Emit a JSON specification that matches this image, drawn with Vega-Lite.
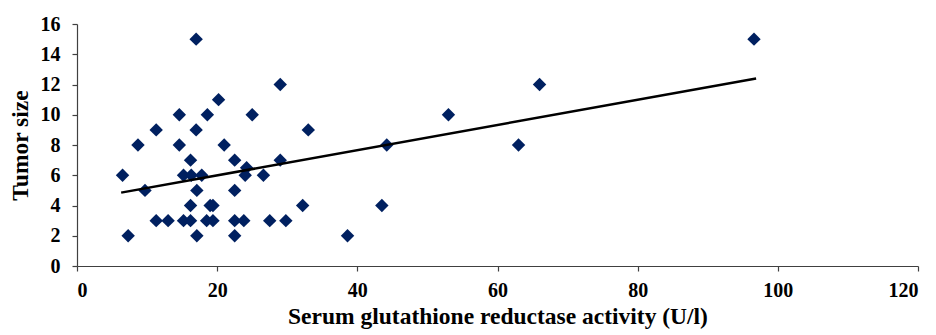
{
  "$schema": "https://vega.github.io/schema/vega-lite/v6.json",
  "width": 841,
  "height": 242,
  "autosize": {"type": "none"},
  "padding": {"left": 77, "top": 24, "right": 18, "bottom": 69},
  "background": "white",
  "config": {
    "view": {"stroke": null},
    "font": "Liberation Serif",
    "axis": {
      "grid": false,
      "domainColor": "#404040",
      "domainWidth": 1.2,
      "tickColor": "#404040",
      "tickWidth": 1.2,
      "tickSize": 5,
      "labelFont": "Liberation Serif",
      "labelFontWeight": "bold",
      "labelFontSize": 20,
      "labelColor": "#000000",
      "titleFont": "Liberation Serif",
      "titleFontWeight": "bold",
      "titleFontSize": 23.5,
      "titleColor": "#000000"
    }
  },
  "datasets": {
    "points": [
      {"activity": 6.5, "size": 6},
      {"activity": 7.3, "size": 2},
      {"activity": 8.7, "size": 8},
      {"activity": 9.7, "size": 5},
      {"activity": 11.3, "size": 9},
      {"activity": 11.3, "size": 3},
      {"activity": 13.0, "size": 3},
      {"activity": 14.6, "size": 10},
      {"activity": 14.6, "size": 8},
      {"activity": 15.2, "size": 6},
      {"activity": 16.3, "size": 6},
      {"activity": 15.2, "size": 3},
      {"activity": 16.2, "size": 3},
      {"activity": 16.2, "size": 7},
      {"activity": 16.2, "size": 4},
      {"activity": 17.0, "size": 15},
      {"activity": 17.0, "size": 9},
      {"activity": 17.1, "size": 5},
      {"activity": 17.1, "size": 2},
      {"activity": 17.8, "size": 6},
      {"activity": 18.6, "size": 10},
      {"activity": 18.5, "size": 3},
      {"activity": 19.4, "size": 3},
      {"activity": 19.0, "size": 4},
      {"activity": 19.4, "size": 4},
      {"activity": 20.2, "size": 11},
      {"activity": 21.0, "size": 8},
      {"activity": 22.5, "size": 7},
      {"activity": 22.5, "size": 5},
      {"activity": 22.5, "size": 3},
      {"activity": 22.5, "size": 2},
      {"activity": 23.8, "size": 3},
      {"activity": 24.2, "size": 6.5},
      {"activity": 24.0, "size": 6},
      {"activity": 25.0, "size": 10},
      {"activity": 26.6, "size": 6},
      {"activity": 27.5, "size": 3},
      {"activity": 29.0, "size": 12},
      {"activity": 29.0, "size": 7},
      {"activity": 29.8, "size": 3},
      {"activity": 32.2, "size": 4},
      {"activity": 33.0, "size": 9},
      {"activity": 38.6, "size": 2},
      {"activity": 43.5, "size": 4},
      {"activity": 44.2, "size": 8},
      {"activity": 53.0, "size": 10},
      {"activity": 63.0, "size": 8},
      {"activity": 66.0, "size": 12},
      {"activity": 96.6, "size": 15}
    ],
    "trend": [
      {"activity": 6.3, "size": 4.85},
      {"activity": 96.9, "size": 12.4}
    ]
  },
  "layer": [
    {
      "data": {"name": "points"},
      "mark": {"type": "point", "shape": "diamond", "filled": true, "size": 180, "color": "#002060", "opacity": 1},
      "encoding": {
        "x": {
          "field": "activity",
          "type": "quantitative",
          "scale": {"domain": [0, 120], "nice": false, "zero": true},
          "axis": {"values": [0, 20, 40, 60, 80, 100, 120], "labelOverlap": false, "title": "Serum glutathione reductase activity (U/l)", "labelPadding": 9, "titlePadding": 4}
        },
        "y": {
          "field": "size",
          "type": "quantitative",
          "scale": {"domain": [0, 16], "nice": false},
          "axis": {"values": [0, 2, 4, 6, 8, 10, 12, 14, 16], "labelOverlap": false, "labelBound": false, "tickCount": 9, "title": "Tumor size", "labelPadding": 12, "titlePadding": 8}
        }
      }
    },
    {
      "data": {"name": "trend"},
      "mark": {"type": "line", "color": "#000000", "strokeWidth": 2.5},
      "encoding": {
        "x": {"field": "activity", "type": "quantitative"},
        "y": {"field": "size", "type": "quantitative"}
      }
    }
  ]
}
